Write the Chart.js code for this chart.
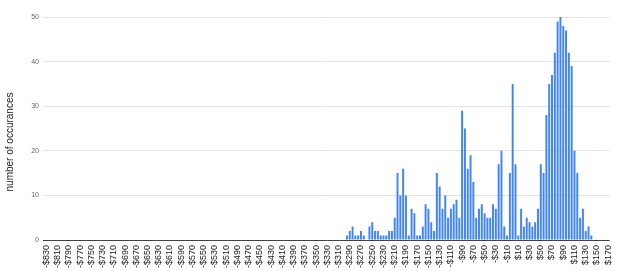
<!DOCTYPE html>
<html>
<head>
<meta charset="utf-8">
<script src="https://cdn.jsdelivr.net/npm/chart.js@4.4.1/dist/chart.umd.min.js"></script>
<style>
  html, body { margin: 0; padding: 0; background: #fff; }
  #wrap { width: 624px; height: 271px; }
</style>
</head>
<body>
<div id="wrap"><canvas id="histChart" width="624" height="271"></canvas></div>
<script>
// $5 buckets from -$830 up to $170
const firstBucket = -830;
const bucketSize = 5;

// number of occurances per bucket
const counts = [
  0, 0, 0, 0, 0, 0, 0, 0, 0, 0, 0, 0, 0, 0, 0, 0, 0, 0, 0, 0,
  0, 0, 0, 0, 0, 0, 0, 0, 0, 0, 0, 0, 0, 0, 0, 0, 0, 0, 0, 0,
  0, 0, 0, 0, 0, 0, 0, 0, 0, 0, 0, 0, 0, 0, 0, 0, 0, 0, 0, 0,
  0, 0, 0, 0, 0, 0, 0, 0, 0, 0, 0, 0, 0, 0, 0, 0, 0, 0, 0, 0,
  0, 0, 0, 0, 0, 0, 0, 0, 0, 0, 0, 0, 0, 0, 0, 0, 0, 0, 0, 0,
  0, 0, 0, 0, 0, 0, 0,
  // -$295 .. $140
  1, 2, 3, 1, 1, 2, 1, 0, 3, 4,
  2, 2, 1, 1, 1, 2, 2, 5, 15, 10,
  16, 10, 1, 7, 6, 1, 1, 3, 8, 7,
  4, 2, 15, 12, 7, 10, 5, 7, 8, 9,
  5, 29, 25, 16, 19, 13, 5, 7, 8, 6,
  5, 5, 8, 7, 17, 20, 3, 1, 15, 35,
  17, 1, 7, 3, 5, 4, 3, 4, 7, 17,
  15, 28, 35, 37, 42, 49, 50, 48, 47, 42,
  39, 20, 15, 5, 7, 2, 3, 1,
  // $145 .. $170
  0, 0, 0, 0, 0, 0
];

const yTicks = [0, 10, 20, 30, 40, 50];
const yTitle = "number of occurances";

function money(v) {
  return (v < 0 ? "-$" : "$") + Math.abs(v);
}

const buckets = counts.map((c, i) => firstBucket + i * bucketSize);
const labels = buckets.map(money);

// y axis title drawn by hand so it sits where the original has it
const yTitlePlugin = {
  id: "yTitle",
  afterDraw(chart) {
    const c = chart.ctx;
    c.save();
    c.translate(10, 142);
    c.rotate(-Math.PI / 2);
    c.font = "10px 'Liberation Sans', Arial, sans-serif";
    c.fillStyle = "#222";
    c.textAlign = "center";
    c.textBaseline = "middle";
    c.fillText(yTitle, 0, 0);
    c.restore();
  },
};

const gridColor = (ctx) => (ctx.tick && ctx.tick.value === 0 ? "#444" : "#e3e3e3");

new Chart(document.getElementById("histChart").getContext("2d"), {
  type: "bar",
  data: {
    labels: labels,
    datasets: [
      {
        label: yTitle,
        data: counts,
        backgroundColor: "#4285f4",
        borderWidth: 0,
        categoryPercentage: 1,
        barPercentage: 0.7,
      },
    ],
  },
  options: {
    responsive: false,
    animation: false,
    layout: {
      padding: { top: 17, right: 5, left: 0, bottom: 0 },
    },
    plugins: {
      legend: { display: false },
      tooltip: { enabled: false },
    },
    scales: {
      x: {
        grid: { display: false, drawTicks: false },
        border: { display: false },
        ticks: {
          autoSkip: false,
          minRotation: 90,
          maxRotation: 90,
          padding: 5,
          color: "#222",
          font: { family: "'Liberation Sans', Arial, sans-serif", size: 9 },
          callback: function (value, index) {
            return index % 4 === 0 ? this.getLabelForValue(value) : "";
          },
        },
        afterFit(scale) {
          scale.height = 31;
        },
      },
      y: {
        min: 0,
        max: 50,
        afterBuildTicks(scale) {
          scale.ticks = yTicks.map((v) => ({ value: v }));
        },
        grid: {
          drawTicks: true,
          tickLength: 2,
          color: gridColor,
          tickColor: gridColor,
          lineWidth: 1,
        },
        border: { display: false },
        ticks: {
          padding: 4,
          color: "#666",
          font: { family: "'Liberation Sans', Arial, sans-serif", size: 7 },
        },
        afterFit(scale) {
          scale.width = 45;
        },
      },
    },
  },
  plugins: [yTitlePlugin],
});
</script>
</body>
</html>
